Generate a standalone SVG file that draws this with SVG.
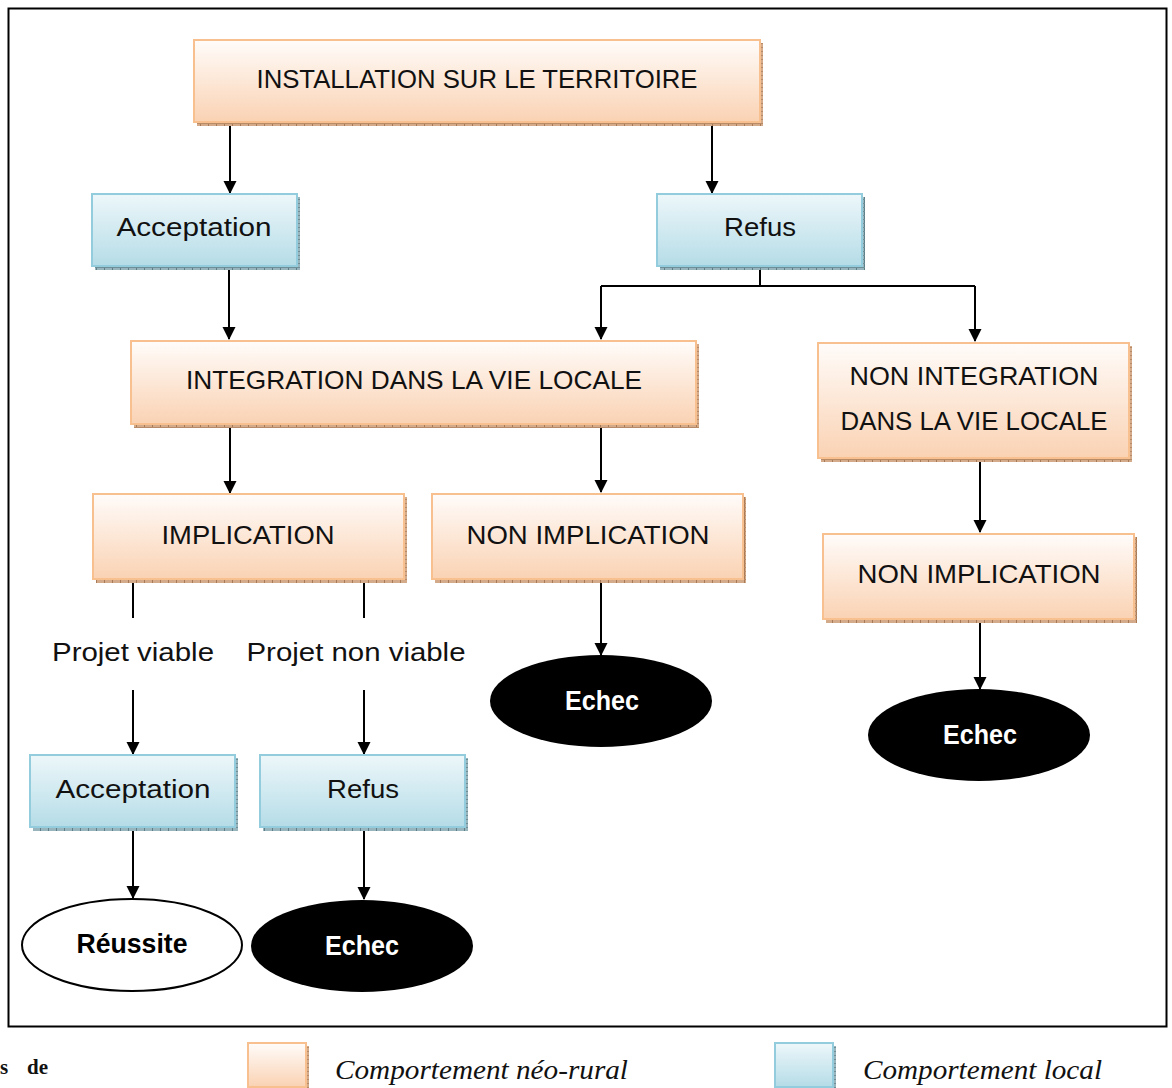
<svg xmlns="http://www.w3.org/2000/svg" width="1172" height="1088" viewBox="0 0 1172 1088">
<style>
.t{font-family:"Liberation Sans",Arial,sans-serif;font-size:26px;fill:#111;text-anchor:middle}
.b{font-family:"Liberation Sans",Arial,sans-serif;font-size:27px;font-weight:bold;text-anchor:middle}
.lg{font-family:"Liberation Serif","Times New Roman",serif;font-size:27px;font-style:italic;fill:#111}
.or{fill:url(#gO);stroke:#f9c08f;stroke-width:2}
.bl{fill:url(#gB);stroke:#93cddd;stroke-width:2}
.so{fill:url(#pO)}
.sb{fill:url(#pB)}
.c{stroke:#000;stroke-width:2;fill:none}
.ca{stroke:#000;stroke-width:2;fill:none;marker-end:url(#ar)}
</style>
<defs>
<linearGradient id="gO" x1="0" y1="0" x2="0" y2="1"><stop offset="0" stop-color="#fffcfa"/><stop offset="1" stop-color="#fad2b3"/></linearGradient>
<linearGradient id="gB" x1="0" y1="0" x2="0" y2="1"><stop offset="0" stop-color="#edf7fa"/><stop offset="1" stop-color="#b5dce7"/></linearGradient>
<pattern id="pO" width="8" height="4" patternUnits="userSpaceOnUse"><rect width="8" height="4" fill="#d3aa8a"/><rect width="1" height="4" fill="#a87a55"/><rect y="3" width="8" height="1" fill="#b88a66"/></pattern>
<pattern id="pB" width="8" height="4" patternUnits="userSpaceOnUse"><rect width="8" height="4" fill="#98b4bc"/><rect width="1" height="4" fill="#5f7f88"/><rect y="3" width="8" height="1" fill="#6f8f98"/></pattern>
<marker id="ar" markerWidth="14" markerHeight="14" refX="12" refY="6.5" orient="auto" markerUnits="userSpaceOnUse"><path d="M0,0 L13,6.5 L0,13 Z" fill="#000"/></marker>
</defs>
<rect x="0" y="0" width="1172" height="1088" fill="#fff"/>
<rect x="8.5" y="8.5" width="1158" height="1018" fill="none" stroke="#000" stroke-width="2"/>

<g id="connectors">
<path class="ca" d="M230,123 V193"/>
<path class="ca" d="M712,123 V193"/>
<path class="ca" d="M229,268 V339"/>
<path class="c" d="M760,268 V286 H975 M760,286 H601"/>
<path class="ca" d="M601,286 V339"/>
<path class="ca" d="M975,286 V341"/>
<path class="ca" d="M230,426 V493"/>
<path class="ca" d="M601,426 V492"/>
<path class="ca" d="M980,461 V532"/>
<path class="c" d="M133,582 V618"/>
<path class="ca" d="M133,690 V754"/>
<path class="c" d="M364,582 V618"/>
<path class="ca" d="M364,690 V754"/>
<path class="ca" d="M601,582 V655"/>
<path class="ca" d="M980,622 V689"/>
<path class="ca" d="M133,830 V898"/>
<path class="ca" d="M364,830 V899"/>
</g>

<g id="installation">
<rect class="so" x="197" y="43" width="566" height="83"/>
<rect class="or" x="194" y="40" width="566" height="82"/>
<text class="t" x="477" y="88" textLength="441" lengthAdjust="spacingAndGlyphs">INSTALLATION SUR LE TERRITOIRE</text>
</g>
<g id="acceptation1">
<rect class="sb" x="95" y="197" width="205" height="73"/>
<rect class="bl" x="92" y="194" width="205" height="72"/>
<text class="t" x="194" y="236" textLength="155" lengthAdjust="spacingAndGlyphs">Acceptation</text>
</g>
<g id="refus1">
<rect class="sb" x="660" y="197" width="205" height="73"/>
<rect class="bl" x="657" y="194" width="205" height="72"/>
<text class="t" x="760" y="236" textLength="72" lengthAdjust="spacingAndGlyphs">Refus</text>
</g>
<g id="integration">
<rect class="so" x="134" y="344" width="565" height="84"/>
<rect class="or" x="131" y="341" width="565" height="83"/>
<text class="t" x="414" y="389" textLength="456" lengthAdjust="spacingAndGlyphs">INTEGRATION DANS LA VIE LOCALE</text>
</g>
<g id="non-integration">
<rect class="so" x="821" y="346" width="311" height="116"/>
<rect class="or" x="818" y="343" width="311" height="115"/>
<text class="t" x="974" y="385" textLength="249" lengthAdjust="spacingAndGlyphs">NON INTEGRATION</text>
<text class="t" x="974" y="430" textLength="267" lengthAdjust="spacingAndGlyphs">DANS LA VIE LOCALE</text>
</g>
<g id="implication">
<rect class="so" x="96" y="497" width="311" height="86"/>
<rect class="or" x="93" y="494" width="311" height="85"/>
<text class="t" x="248" y="544" textLength="173" lengthAdjust="spacingAndGlyphs">IMPLICATION</text>
</g>
<g id="non-implication1">
<rect class="so" x="435" y="497" width="311" height="86"/>
<rect class="or" x="432" y="494" width="311" height="85"/>
<text class="t" x="588" y="544" textLength="243" lengthAdjust="spacingAndGlyphs">NON IMPLICATION</text>
</g>
<g id="non-implication2">
<rect class="so" x="826" y="537" width="311" height="86"/>
<rect class="or" x="823" y="534" width="311" height="85"/>
<text class="t" x="979" y="583" textLength="243" lengthAdjust="spacingAndGlyphs">NON IMPLICATION</text>
</g>
<g id="projet-viable">
<text class="t" x="133" y="661" textLength="162" lengthAdjust="spacingAndGlyphs">Projet viable</text>
</g>
<g id="projet-non-viable">
<text class="t" x="356" y="661" textLength="219" lengthAdjust="spacingAndGlyphs">Projet non viable</text>
</g>
<g id="acceptation2">
<rect class="sb" x="33" y="758" width="205" height="73"/>
<rect class="bl" x="30" y="755" width="205" height="72"/>
<text class="t" x="133" y="798" textLength="155" lengthAdjust="spacingAndGlyphs">Acceptation</text>
</g>
<g id="refus2">
<rect class="sb" x="263" y="758" width="205" height="73"/>
<rect class="bl" x="260" y="755" width="205" height="72"/>
<text class="t" x="363" y="798" textLength="72" lengthAdjust="spacingAndGlyphs">Refus</text>
</g>
<g id="reussite">
<ellipse cx="132" cy="945" rx="110" ry="46" fill="#fff" stroke="#000" stroke-width="2"/>
<text class="b" x="132" y="953" fill="#000" textLength="111" lengthAdjust="spacingAndGlyphs">Réussite</text>
</g>
<g id="echec1">
<ellipse cx="362" cy="946" rx="111" ry="46" fill="#000"/>
<text class="b" x="362" y="955" fill="#fff" textLength="74" lengthAdjust="spacingAndGlyphs">Echec</text>
</g>
<g id="echec2">
<ellipse cx="601" cy="701" rx="111" ry="46" fill="#000"/>
<text class="b" x="602" y="710" fill="#fff" textLength="74" lengthAdjust="spacingAndGlyphs">Echec</text>
</g>
<g id="echec3">
<ellipse cx="979" cy="735" rx="111" ry="46" fill="#000"/>
<text class="b" x="980" y="744" fill="#fff" textLength="74" lengthAdjust="spacingAndGlyphs">Echec</text>
</g>

<g id="legend">
<text y="1074" font-family="'Liberation Serif','Times New Roman',serif" font-size="21" font-weight="bold" fill="#111"><tspan x="0">s</tspan><tspan x="27">de</tspan></text>
<rect class="so" x="251" y="1046" width="58" height="44"/>
<rect class="or" x="248" y="1043" width="58" height="44"/>
<text class="lg" x="335" y="1079" textLength="293" lengthAdjust="spacingAndGlyphs">Comportement néo-rural</text>
<rect class="sb" x="778" y="1046" width="58" height="44"/>
<rect class="bl" x="775" y="1043" width="58" height="44"/>
<text class="lg" x="863" y="1079" textLength="239" lengthAdjust="spacingAndGlyphs">Comportement local</text>
</g>
</svg>
